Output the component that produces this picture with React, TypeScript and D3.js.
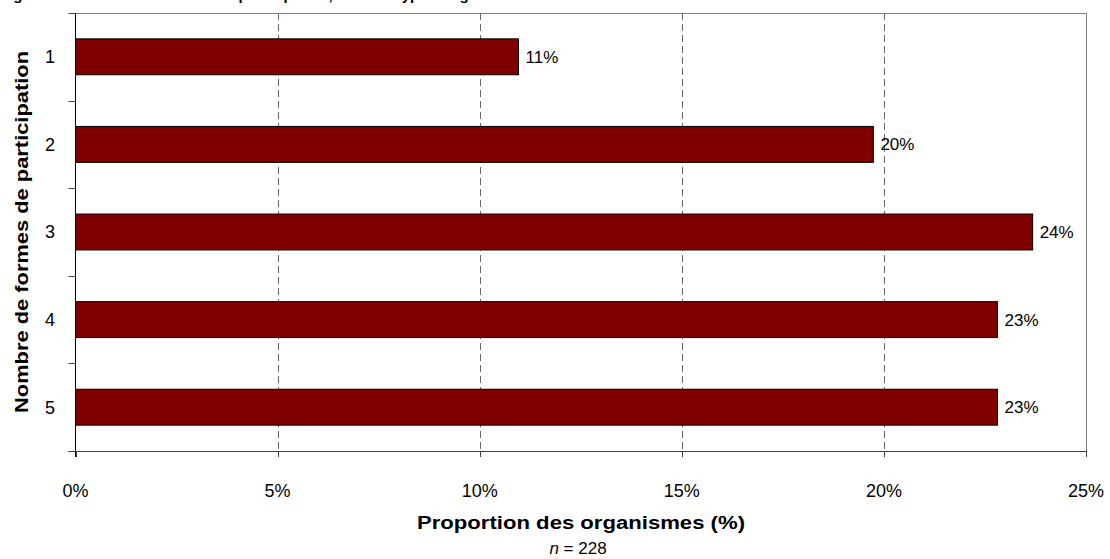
import React from "react";
import * as d3 from "d3";

const categories = ["1", "2", "3", "4", "5"];
const values = [10.96, 19.74, 23.68, 22.81, 22.81];
const valueLabels = ["11%", "20%", "24%", "23%", "23%"];
const xTicks = [0, 5, 10, 15, 20, 25];
const xTickLabels = ["0%", "5%", "10%", "15%", "20%", "25%"];
const title = "Figure 12 : Nombre de formes de participation, selon le type d'organisme";
const yTitle = "Nombre de formes de participation";
const xTitle = "Proportion des organismes (%)";

const W = 1110;
const H = 559;
const plot = { left: 75.5, right: 1086, top: 13, bottom: 451 };
const FONT = "'Liberation Sans', Arial, sans-serif";

export default function App() {
  const x = d3.scaleLinear().domain([0, 25]).range([plot.left, plot.right]);
  const y = d3
    .scaleBand<string>()
    .domain(categories)
    .range([plot.top, plot.bottom])
    .paddingInner(0.59)
    .paddingOuter(0.295);
  const step = y.step();
  const bounds = d3.range(categories.length + 1).map((i) => plot.top + i * step);

  return (
    <svg
      width={W}
      height={H}
      style={{ position: "absolute", left: 0, top: 0, background: "#fff" }}
      fontFamily={FONT}
    >
      <text x={0} y={-0.5} fontSize={15} fontWeight="bold" fill="#000">
        {title}
      </text>
      {/* plot border */}
      <line x1={plot.left} x2={plot.right} y1={plot.top + 0.5} y2={plot.top + 0.5} stroke="#808080" strokeWidth={1} />
      <line x1={plot.right + 0.5} x2={plot.right + 0.5} y1={plot.top} y2={plot.bottom + 6} stroke="#808080" strokeWidth={1} />
      {/* grid */}
      {xTicks.slice(1, -1).map((t) => (
        <line
          key={"g" + t}
          x1={Math.round(x(t)) + 0.5}
          x2={Math.round(x(t)) + 0.5}
          y1={plot.top}
          y2={plot.bottom}
          stroke="#666"
          strokeWidth={1}
          strokeDasharray="7,4"
        />
      ))}
      {/* bars */}
      {categories.map((c, i) => (
        <g key={c}>
          <rect
            x={x(0)}
            y={y(c)!}
            width={x(values[i]) - x(0)}
            height={y.bandwidth()}
            fill="#800000"
            stroke="#000"
            strokeWidth={1}
          />
          <text
            x={x(values[i]) + 7}
            y={y(c)! + y.bandwidth() / 2}
            dy="0.35em"
            fontSize={17}
            fill="#000"
          >
            {valueLabels[i]}
          </text>
          <text
            x={55}
            y={y(c)! + y.bandwidth() / 2}
            dy="0.35em"
            fontSize={18}
            textAnchor="end"
            fill="#000"
          >
            {c}
          </text>
        </g>
      ))}
      {/* y axis */}
      <line x1={plot.left} x2={plot.left} y1={plot.top} y2={plot.bottom + 6} stroke="#000" strokeWidth={1} />
      {bounds.map((b, i) => (
        <line key={"yt" + i} x1={plot.left - 7} x2={plot.left} y1={Math.round(b) + 0.5} y2={Math.round(b) + 0.5} stroke="#404040" strokeWidth={1} />
      ))}
      {/* x axis */}
      <line x1={plot.left - 7} x2={plot.right} y1={plot.bottom + 0.5} y2={plot.bottom + 0.5} stroke="#404040" strokeWidth={1} />
      {xTicks.map((t, i) => (
        <g key={"xt" + t}>
          <line x1={Math.round(x(t)) + 0.5} x2={Math.round(x(t)) + 0.5} y1={plot.bottom} y2={plot.bottom + 6} stroke="#404040" strokeWidth={1} />
          <text x={x(t)} y={497} fontSize={18} textAnchor="middle" fill="#000">
            {xTickLabels[i]}
          </text>
        </g>
      ))}
      {/* titles */}
      <text
        x={581}
        y={529}
        fontSize={18}
        fontWeight="bold"
        textAnchor="middle"
        textLength={328}
        lengthAdjust="spacingAndGlyphs"
        fill="#000"
      >
        {xTitle}
      </text>
      <text x={578} y={554} fontSize={17} textAnchor="middle" fill="#000">
        <tspan fontStyle="italic">n</tspan> = 228
      </text>
      <text
        transform={`translate(28,232) rotate(-90)`}
        fontSize={18}
        fontWeight="bold"
        textAnchor="middle"
        textLength={362}
        lengthAdjust="spacingAndGlyphs"
        fill="#000"
      >
        {yTitle}
      </text>
    </svg>
  );
}
